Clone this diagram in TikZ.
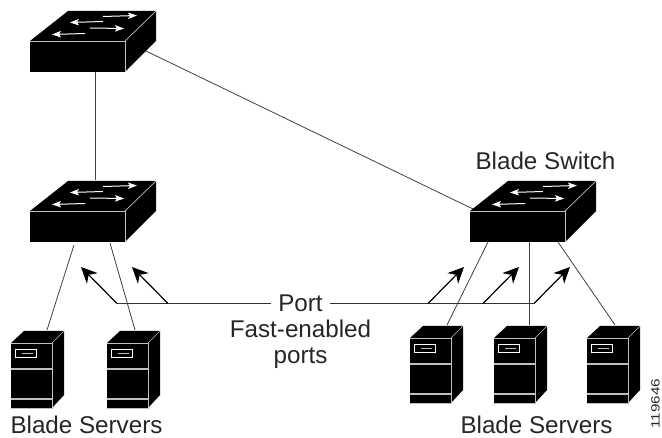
\documentclass[tikz,border=0pt]{standalone}
\usepackage{fontspec}
\setmainfont{Liberation Sans}
\usetikzlibrary{arrows.meta}
\definecolor{txt}{gray}{0.15}
\definecolor{edge}{gray}{0.75}
\tikzset{
  x=1pt,y=-1pt,
  link/.style={draw=black!75,line width=0.8pt},
  portline/.style={draw=black!80,line width=1.1pt},
  pointer/.style={draw=black,line width=1.2pt,-{Stealth[length=16pt,width=15pt,inset=5pt]}},
  label/.style={inner sep=0pt,anchor=base,font=\fontsize{24.2}{28}\selectfont,text=txt},
  body/.style={fill=black},
  rim/.style={draw=edge,line width=0.7pt},
  flow/.style={draw=white,line width=1pt,-{Stealth[length=9pt,width=6.5pt,inset=2pt]}},
}
\newcommand{\switchicon}[3]{%
  \begin{scope}[shift={(#1,#2)}]
    \fill[body] (30,41) -- (68,11) -- (156,11) -- (156,41) -- (125,72) -- (30,72) -- cycle;
    \draw[rim] (30,41) -- (125,41) -- (125,72);
    \draw[rim] (125,41) -- (156,11);
    \draw[flow] (103,16.5) -- (137,15.5);
    \draw[flow] (103,21.5) -- (70,22.5);
    \draw[flow] (90,28) -- (124,28.5);
    \draw[flow] (85,33.5) -- (52,34.5);
    \coordinate (#3) at (0,0);
  \end{scope}}
\newcommand{\servericon}[3]{%
  \begin{scope}[shift={(#1,#2)}]
    \fill[body] (11,343) -- (24,331) -- (64,331) -- (64,395) -- (52,408) -- (11,408) -- cycle;
    \draw[rim] (11,343) -- (52,343) -- (52,408) -- (11,408);
    \draw[rim] (52,343) -- (64,331);
    \draw[rim,line width=1.1pt] (11,369) -- (52,369);
    \draw[rim,line width=1.1pt] (11,399) -- (52,399);
    \draw[rim,draw=white] (15.5,349.5) rectangle (36.5,357.5);
    \draw[draw=edge,line width=0.8pt] (22,353.5) -- (33,353.5);
    \coordinate (#3) at (0,0);
  \end{scope}}
\begin{document}
\begin{tikzpicture}
\useasboundingbox (0,0) rectangle (662,438);
% connector ends
\coordinate (topS) at (95,72);
\coordinate (midN) at (95,180);
\coordinate (topE) at (146,51);
\coordinate (rsW) at (473,209);
\coordinate (mA) at (74,245);
\coordinate (sA) at (47,330);
\coordinate (mB) at (110,243);
\coordinate (sB) at (135,330);
\coordinate (rA) at (488,242);
\coordinate (pA) at (447,325);
\coordinate (rB) at (529,242);
\coordinate (pB) at (529,325);
\coordinate (rC) at (558,242);
\coordinate (pC) at (615,325);
\draw[link] (topS) -- (midN);
\draw[link] (topE) -- (rsW);
\draw[link] (mA) -- (sA);
\draw[link] (mB) -- (sB);
\draw[link] (rA) -- (pA);
\draw[link] (rB) -- (pB);
\draw[link] (rC) -- (pC);
\switchicon{0}{0}{swTop}
\switchicon{0}{170}{swMid}
\switchicon{440}{170}{swRight}
\servericon{0}{0}{svA}
\servericon{96}{0}{svB}
\servericon{399}{-5}{svC}
\servericon{483}{-5}{svD}
\servericon{576}{-5}{svE}
% labels
\node[label,anchor=center,inner xsep=7.5pt,text depth=0pt] (port) at (300.5,303.5) {Port};
\node[label] (fast) at (300.5,338) {Fast-enabled};
\node[label] (ports) at (300.5,364) {ports};
\node[label] (bsw) at (545.5,170) {Blade Switch};
\node[label] (bsl) at (86.5,433.5) {Blade Servers};
\node[label] (bsr) at (536.5,433.5) {Blade Servers};
\node[inner sep=0pt,anchor=base,font=\fontsize{12}{14}\selectfont,text=txt,rotate=90] (num) at (659.5,403.5) {\scalebox{1.27}[1]{119646}};
% port pointers
\coordinate (jL) at (117,303.5);
\coordinate (jL2) at (168,303.5);
\coordinate (jR1) at (428,303.5);
\coordinate (jR2) at (483,303.5);
\coordinate (jR3) at (534,303.5);
\coordinate (aL1) at (81,267);
\coordinate (aL2) at (132,267);
\coordinate (aR1) at (464,267);
\coordinate (aR2) at (519,267);
\coordinate (aR3) at (570,267);
\draw[portline] (jL) -- (port.west);
\draw[portline] (port.east) -- (jR3);
\draw[pointer] (jL) -- (aL1);
\draw[pointer] (jL2) -- (aL2);
\draw[pointer] (jR1) -- (aR1);
\draw[pointer] (jR2) -- (aR2);
\draw[pointer] (jR3) -- (aR3);
\end{tikzpicture}
\end{document}
